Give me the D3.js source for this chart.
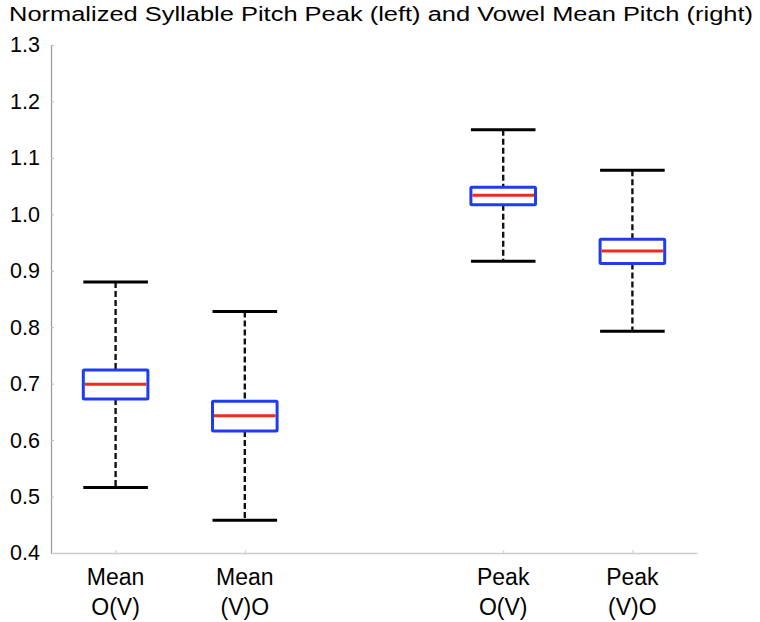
<!DOCTYPE html>
<html>
<head>
<meta charset="utf-8">
<script src="https://cdn.jsdelivr.net/npm/d3@7"></script>
<style>
  body { margin: 0; background: #fff; }
  text { font-family: "Liberation Sans", Arial, sans-serif; fill: #000; }
</style>
</head>
<body>
<div id="chart"></div>
<script>
const categories = ["Mean\nO(V)", "Mean\n(V)O", "Peak\nO(V)", "Peak\n(V)O"];
const positions = [1, 2, 4, 5];
const whiskerLow = [0.516, 0.458, 0.917, 0.793];
const q1 = [0.673, 0.616, 1.017, 0.913];
const medians = [0.699, 0.643, 1.034, 0.935];
const q3 = [0.724, 0.669, 1.048, 0.956];
const whiskerHigh = [0.880, 0.828, 1.150, 1.078];
const yTicks = [0.4, 0.5, 0.6, 0.7, 0.8, 0.9, 1.0, 1.1, 1.2, 1.3];

const width = 760, height = 622;
const svg = d3.select("#chart").append("svg")
    .attr("width", width)
    .attr("height", height);

const x = d3.scaleLinear().domain([0.5, 5.5]).range([51, 697]);
const y = d3.scaleLinear().domain([0.4, 1.3]).range([553, 45]);
const boxW = x(1.25) - x(0.75);

const boxes = categories.map((c, i) => ({
    name: c, pos: positions[i], lo: whiskerLow[i], q1: q1[i],
    med: medians[i], q3: q3[i], hi: whiskerHigh[i]
}));

// title
svg.append("text")
    .attr("x", 9).attr("y", 21)
    .attr("textLength", 744)
    .attr("lengthAdjust", "spacingAndGlyphs")
    .style("font-size", "20px")
    .text("Normalized Syllable Pitch Peak (left) and Vowel Mean Pitch (right)");

// y axis
const yAxis = svg.append("g")
    .attr("transform", "translate(51,0)")
    .call(d3.axisLeft(y).tickValues(yTicks).tickFormat(d3.format(".1f")).tickSizeInner(-3).tickSizeOuter(0).tickPadding(11));
yAxis.select(".domain").attr("stroke", "#999").attr("stroke-width", 1.2);
yAxis.selectAll(".tick line").attr("stroke", "#bbb");
yAxis.selectAll(".tick text")
    .style("font-size", "21.5px")
    .attr("fill", "#000")
    .attr("font-family", "Liberation Sans, Arial, sans-serif");

// x axis
const xAxis = svg.append("g")
    .attr("transform", "translate(0,553)")
    .call(d3.axisBottom(x).tickValues(positions).tickFormat("").tickSizeInner(-3).tickSizeOuter(0));
xAxis.select(".domain").attr("stroke", "#ccc").attr("stroke-width", 1.5);
xAxis.selectAll(".tick line").attr("stroke", "#ccc");

// category labels, two lines
const labels = svg.append("g").selectAll("text")
    .data(boxes)
    .enter().append("text")
    .attr("text-anchor", "middle")
    .style("font-size", "23px");
labels.each(function(d) {
    const lines = d.name.split("\n");
    d3.select(this).selectAll("tspan")
        .data(lines)
        .enter().append("tspan")
        .attr("x", x(d.pos))
        .attr("y", (l, j) => 585 + j * 30)
        .text(l => l);
});

const g = svg.append("g").selectAll("g")
    .data(boxes)
    .enter().append("g");

// dashed whiskers
g.append("line")
    .attr("x1", d => x(d.pos)).attr("x2", d => x(d.pos))
    .attr("y1", d => y(d.hi)).attr("y2", d => y(d.q3))
    .attr("stroke", "#111").attr("stroke-width", 2.4)
    .attr("stroke-dasharray", "6,3");
g.append("line")
    .attr("x1", d => x(d.pos)).attr("x2", d => x(d.pos))
    .attr("y1", d => y(d.q1)).attr("y2", d => y(d.lo))
    .attr("stroke", "#111").attr("stroke-width", 2.4)
    .attr("stroke-dasharray", "6,3");

// caps
g.append("line")
    .attr("x1", d => x(d.pos) - boxW / 2).attr("x2", d => x(d.pos) + boxW / 2)
    .attr("y1", d => y(d.hi)).attr("y2", d => y(d.hi))
    .attr("stroke", "#000").attr("stroke-width", 3);
g.append("line")
    .attr("x1", d => x(d.pos) - boxW / 2).attr("x2", d => x(d.pos) + boxW / 2)
    .attr("y1", d => y(d.lo)).attr("y2", d => y(d.lo))
    .attr("stroke", "#000").attr("stroke-width", 3);

// box
g.append("rect")
    .attr("x", d => x(d.pos) - boxW / 2)
    .attr("y", d => y(d.q3))
    .attr("width", boxW)
    .attr("height", d => y(d.q1) - y(d.q3))
    .attr("fill", "#fff")
    .attr("stroke", "#1f3cf0").attr("stroke-width", 3)
    .attr("rx", 1);

// median
g.append("line")
    .attr("x1", d => x(d.pos) - boxW / 2 + 1.5).attr("x2", d => x(d.pos) + boxW / 2 - 1.5)
    .attr("y1", d => y(d.med)).attr("y2", d => y(d.med))
    .attr("stroke", "#ee2a1e").attr("stroke-width", 3);
</script>
</body>
</html>
